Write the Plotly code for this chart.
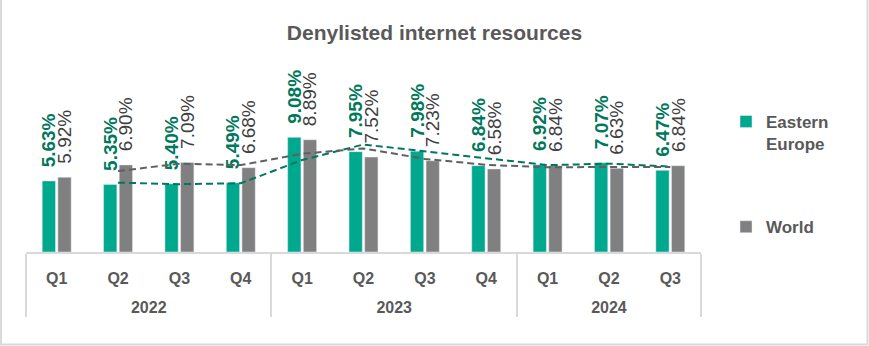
import plotly.graph_objects as go

years = ["2022"] * 4 + ["2023"] * 4 + ["2024"] * 3
quarters = ["Q1", "Q2", "Q3", "Q4", "Q1", "Q2", "Q3", "Q4", "Q1", "Q2", "Q3"]
eastern_europe = [5.63, 5.35, 5.40, 5.49, 9.08, 7.95, 7.98, 6.84, 6.92, 7.07, 6.47]
world = [5.92, 6.90, 7.09, 6.68, 8.89, 7.52, 7.23, 6.58, 6.84, 6.63, 6.84]
# 2-period moving-average trendlines (start at 2022 Q2)
ee_trend = [5.49, 5.375, 5.445, 7.285, 8.515, 7.965, 7.41, 6.88, 6.995, 6.77]
world_trend = [6.41, 6.995, 6.885, 7.785, 8.205, 7.375, 6.905, 6.71, 6.735, 6.735]

W, H = 869, 346
ML, MR, MT, MB = 26, 168, 50, 94
PW, PH = W - ML - MR, H - MT - MB

def px(x):
    return (x - ML) / PW

def py(y):
    return (H - MB - y) / PH

FONT = "Liberation Sans, Arial, sans-serif"
NB = "\u00a0\u00a0"
year_labels = ["<br>" + y for y in years]

fig = go.Figure()
fig.add_trace(go.Bar(
    x=[year_labels, quarters], y=eastern_europe, name="Eastern<br>Europe",
    marker_color="#00A88E", legendgroup="ee",
    text=[NB + f"{v:.2f}%" for v in eastern_europe],
    textposition="outside", textangle=-90, constraintext="none", cliponaxis=False,
    textfont=dict(family=FONT, size=19, color="#00785C", weight="bold"),
))
fig.add_trace(go.Bar(
    x=[year_labels, quarters], y=world, name="World",
    marker_color="#808080", legendgroup="w",
    text=[NB + f"{v:.2f}%" for v in world],
    textposition="outside", textangle=-90, constraintext="none", cliponaxis=False,
    textfont=dict(family=FONT, size=19, color="#404040"),
))
fig.add_trace(go.Scatter(
    x=[year_labels[1:], quarters[1:]], y=ee_trend, mode="lines", showlegend=False,
    line=dict(color="#00785C", width=2, dash="7px,4px"), hoverinfo="skip",
))
fig.add_trace(go.Scatter(
    x=[year_labels[1:], quarters[1:]], y=world_trend, mode="lines", showlegend=False,
    line=dict(color="#606060", width=2, dash="7px,4px"), hoverinfo="skip",
))

fig.update_layout(
    width=W, height=H,
    margin=dict(l=ML, r=MR, t=MT, b=MB, pad=0),
    paper_bgcolor="white", plot_bgcolor="white",
    barmode="group", bargap=0.49, bargroupgap=0.15,
    title=dict(text="<b>Denylisted internet resources</b>", x=0.5, xref="container",
               y=1 - 33 / H, yref="container", yanchor="middle", xanchor="center",
               font=dict(family=FONT, size=21, color="#595959")),
    legend=dict(x=px(726), y=py(104), xanchor="left", yanchor="top",
                font=dict(family=FONT, size=17, color="#595959", weight="bold"),
                valign="top", tracegroupgap=58, traceorder="grouped",
                bgcolor="rgba(0,0,0,0)"),
    showlegend=True,
    xaxis=dict(type="multicategory", showline=True, linecolor="#D9D9D9", linewidth=2,
               showdividers=True, dividercolor="#D9D9D9", dividerwidth=2,
               tickfont=dict(family=FONT, size=16, color="#595959", weight="bold"),
               ticks="", ticklabelstandoff=11,
               showgrid=False, zeroline=False),
    yaxis=dict(range=[0, 16], visible=False, showgrid=False, zeroline=False),
    shapes=[dict(type="rect", xref="paper", yref="paper",
                 x0=px(1), x1=px(867.5), y0=py(344.5), y1=py(-3),
                 line=dict(color="#D9D9D9", width=2), layer="below")],
)

fig.write_html("out.html")
